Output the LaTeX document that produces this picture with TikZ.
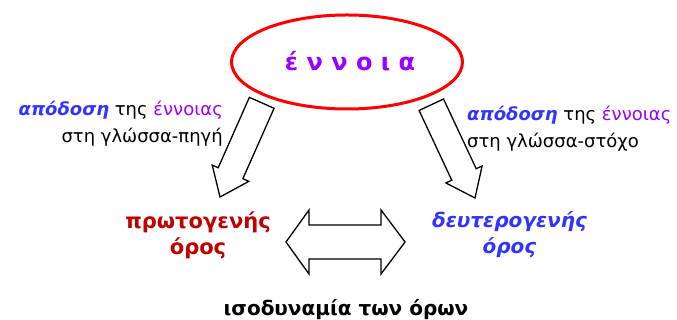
\documentclass[tikz,border=0pt]{standalone}
\usepackage{fontspec}
\setmainfont{DejaVu Sans}
\usetikzlibrary{shapes.geometric}
\definecolor{cred}{HTML}{FF0000}
\definecolor{cpurple}{HTML}{9900FF}
\definecolor{cblue}{HTML}{3333FF}
\definecolor{cdred}{HTML}{C00000}
\tikzset{
  blockarr/.pic={\draw[line width=1.3pt, fill=white, line join=miter] (0,0) -- (-26,20) -- (-26,13.5) -- (-103,13.5) -- (-103,-13.5) -- (-26,-13.5) -- (-26,-20) -- cycle;},
  lbl/.style={inner sep=0pt, font=\fontsize{18}{27}\selectfont},
  term/.style={inner sep=0pt, align=center, font=\fontsize{20.5}{26}\selectfont\bfseries},
}
\begin{document}
\begin{tikzpicture}[x=1pt,y=1pt]
\useasboundingbox (0,0) rectangle (677,320);
\node[ellipse, draw=cred, line width=3pt, minimum width=231pt, minimum height=94pt, inner sep=0pt] (concept) at (347,258) {};
\node[inner sep=0pt, text=cpurple, font=\fontsize{24}{28}\selectfont\bfseries] (conceptlbl) at (350,259) {έ ν ν ο ι α};
\pic[rotate=246.1] at (220,123) {blockarr};
\pic[rotate=-64.9] at (475,122) {blockarr};
\draw[line width=1.3pt, fill=white] (286,78) -- (309,110) -- (309,95) -- (381,95) -- (381,110) -- (405,78)
   -- (381,46) -- (381,61) -- (309,61) -- (309,46) -- cycle;
\node[lbl, anchor=east, align=right] (srcl) at (223,196.5)
  {\textcolor{cblue}{\bfseries\itshape απόδοση} της \textcolor{cpurple}{έννοιας}\\στη γλώσσα-πηγή};
\node[lbl, anchor=west, align=left] (tgtl) at (467,191.5)
  {\textcolor{cblue}{\bfseries\itshape απόδοση} της \textcolor{cpurple}{έννοιας}\\στη γλώσσα-στόχο};
\node[term, text=cdred, font=\fontsize{21}{26}\selectfont\bfseries] (prim) at (198,85) {πρωτογενής\\όρος};
\node[term, text=cblue, font=\fontsize{20}{26}\selectfont\bfseries\itshape] (sec) at (509.5,85) {δευτερογενής\\όρος};
\node[term, font=\fontsize{20}{26}\selectfont\bfseries] (equiv) at (346,10) {ισοδυναμία των όρων};
\end{tikzpicture}
\end{document}
